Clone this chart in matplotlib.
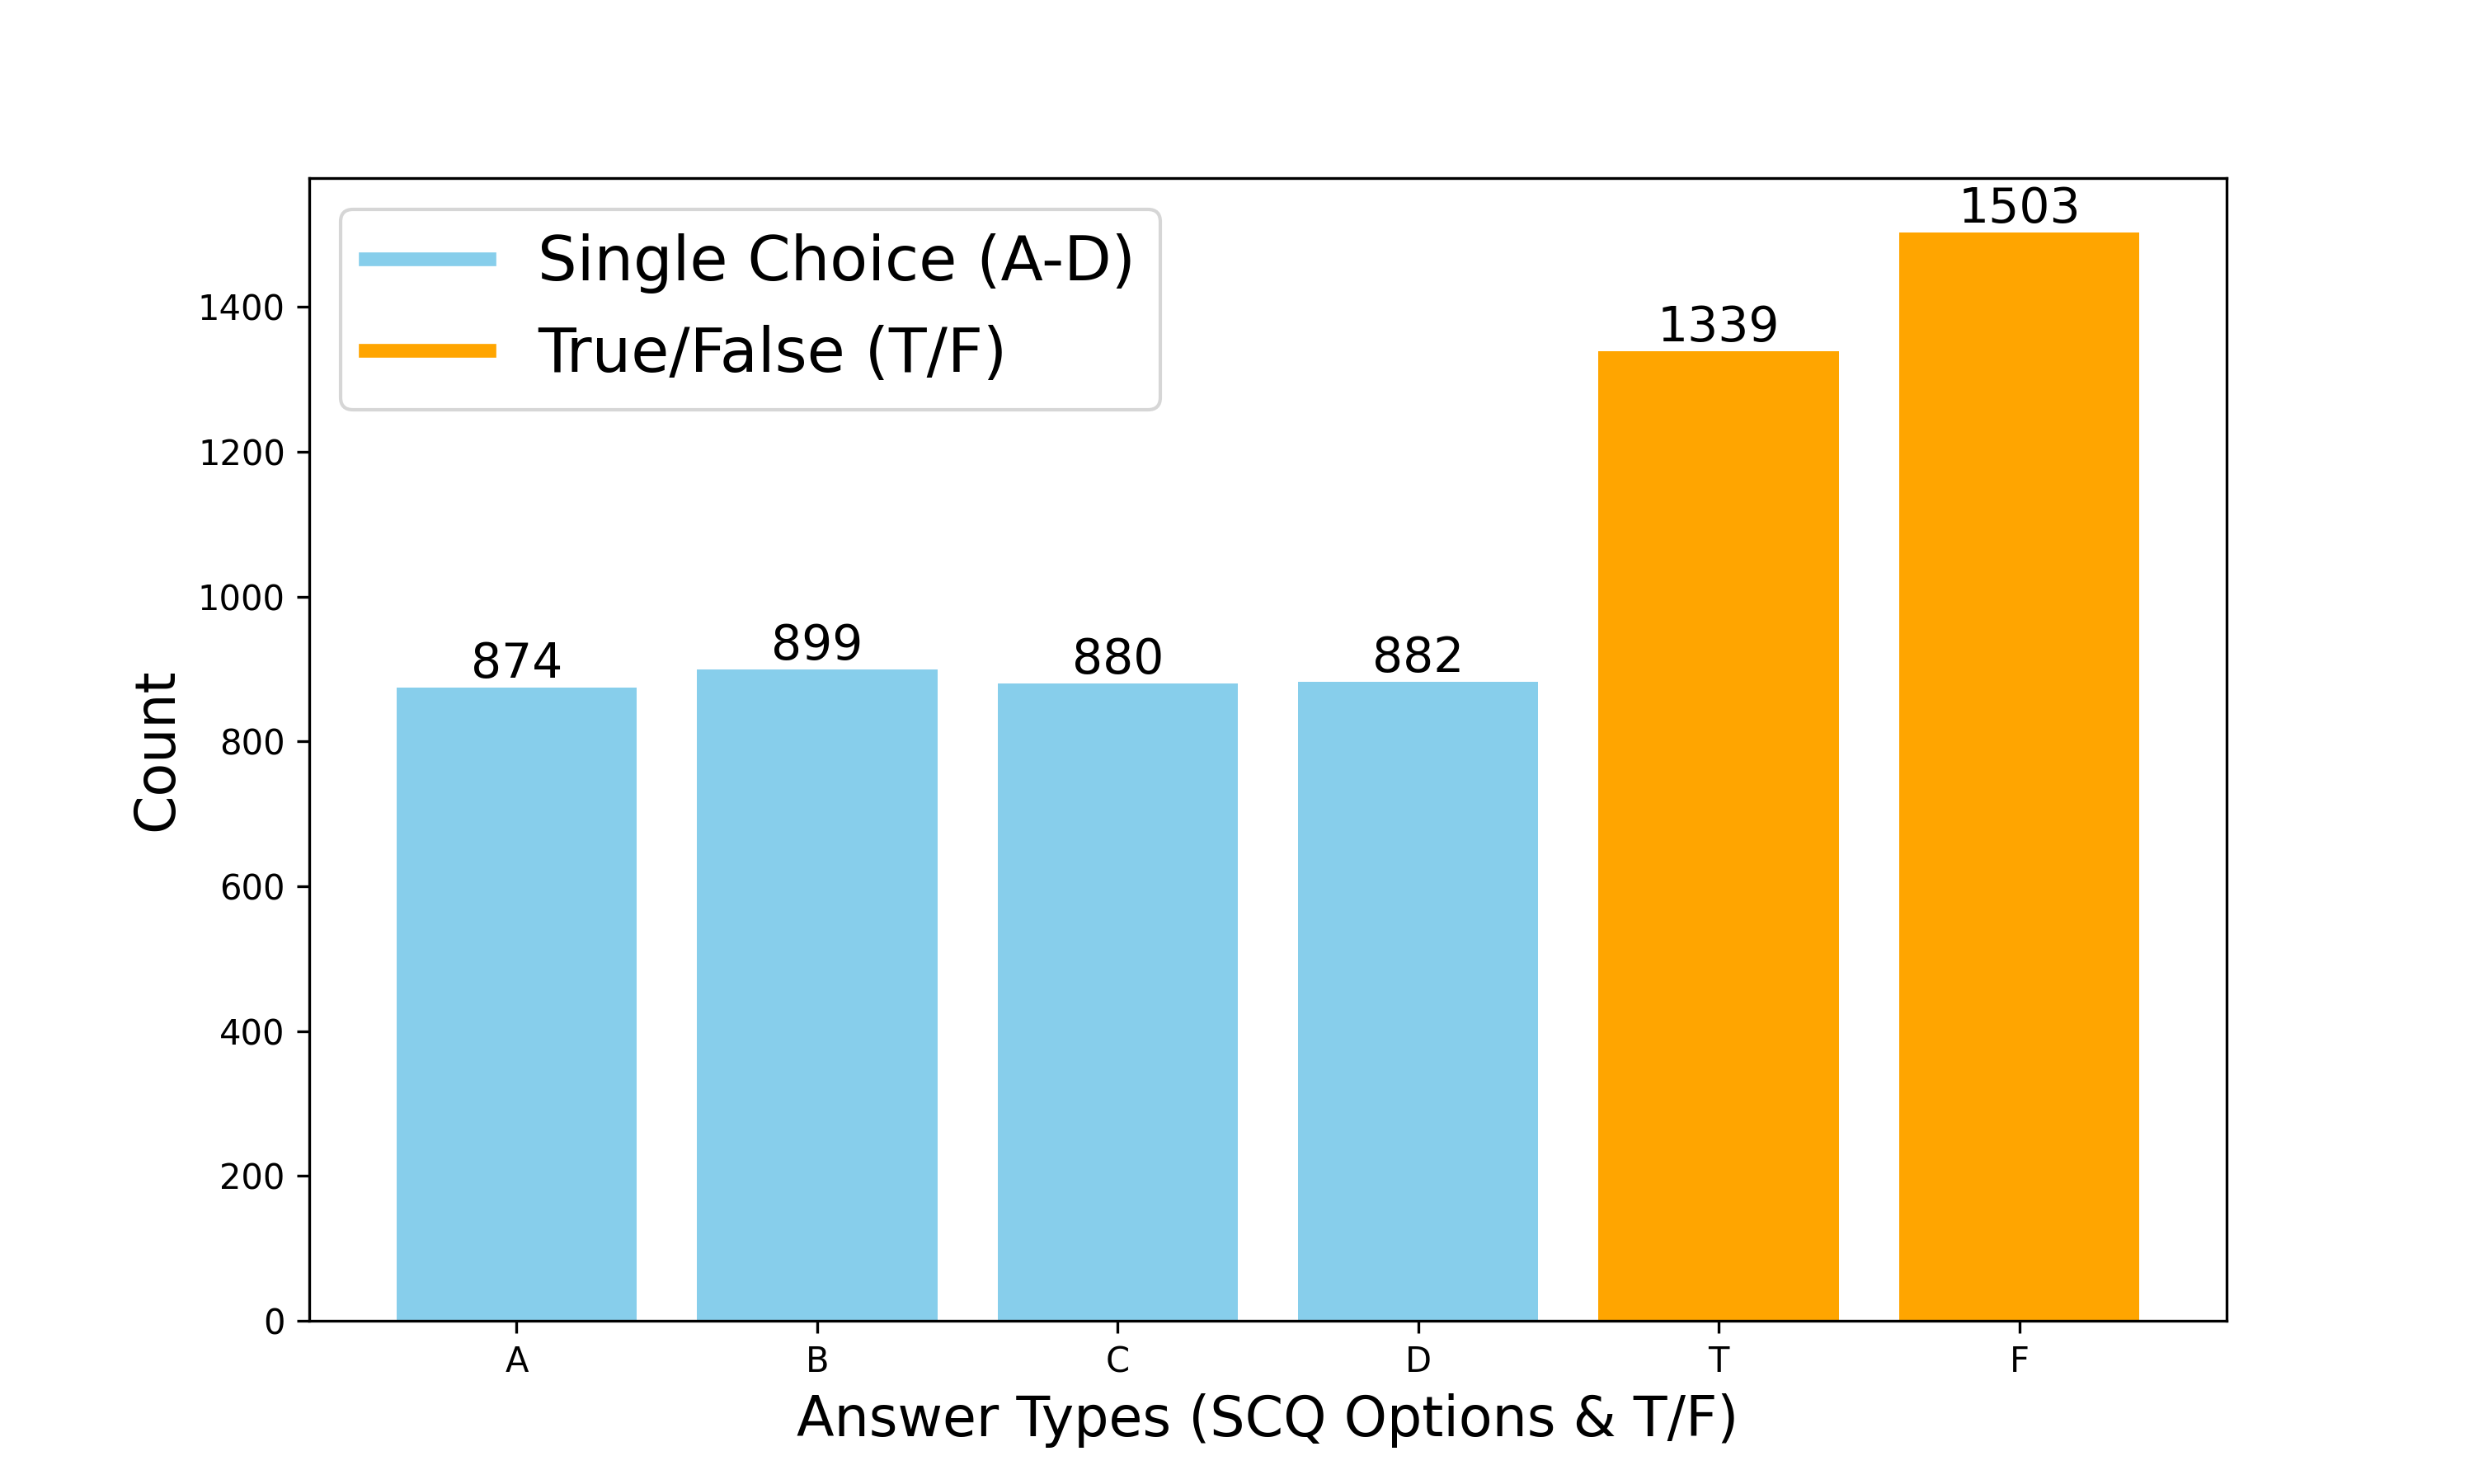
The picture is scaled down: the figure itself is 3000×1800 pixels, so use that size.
import matplotlib
matplotlib.use("Agg")
import matplotlib.pyplot as plt
from matplotlib.lines import Line2D

categories = ["A", "B", "C", "D", "T", "F"]
counts = [874, 899, 880, 882, 1339, 1503]
group_colors = ["skyblue", "skyblue", "skyblue", "skyblue", "orange", "orange"]
legend_labels = ["Single Choice (A-D)", "True/False (T/F)"]
legend_colors = ["skyblue", "orange"]

fig, ax = plt.subplots(figsize=(10, 6), dpi=300)
bars = ax.bar(categories, counts, color=group_colors)
for b, v in zip(bars, counts):
    ax.text(b.get_x() + b.get_width() / 2, v, str(v), ha="center", va="bottom", fontsize=14)

ax.set_xlabel("Answer Types (SCQ Options & T/F)", fontsize=16)
ax.set_ylabel("Count", fontsize=16)

handles = [Line2D([0], [0], color=c, lw=4) for c in legend_colors]
ax.legend(handles, legend_labels, fontsize=18, loc="upper left")

fig.savefig("out.png", dpi=300)
